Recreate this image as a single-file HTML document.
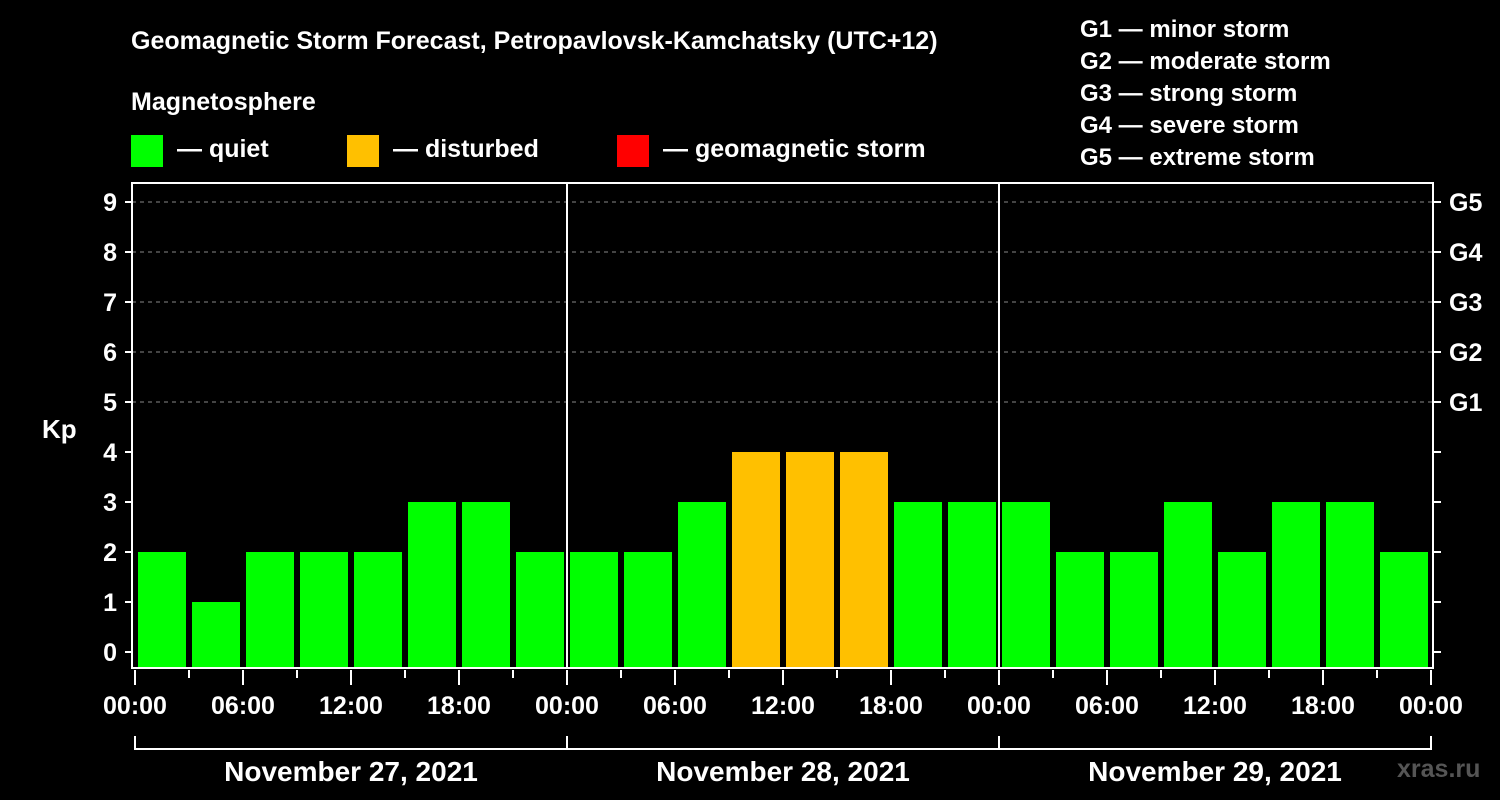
<!DOCTYPE html>
<html><head><meta charset="utf-8"><style>
body{margin:0;background:#000;}
svg{display:block;font-family:"Liberation Sans",Arial,sans-serif;font-weight:bold;}
</style></head><body>
<svg id="c" width="1500" height="800" viewBox="0 0 1500 800">
<rect width="1500" height="800" fill="#000"/>
<text x="131" y="49" fill="#fff" font-size="25">Geomagnetic Storm Forecast, Petropavlovsk-Kamchatsky (UTC+12)</text>
<text x="131" y="110" fill="#fff" font-size="25">Magnetosphere</text>
<g><rect x="131" y="135" width="32" height="32" fill="#00ff00"/><text x="177" y="157" fill="#fff" font-size="25">— quiet</text></g>
<g><rect x="347" y="135" width="32" height="32" fill="#ffc000"/><text x="393" y="157" fill="#fff" font-size="25">— disturbed</text></g>
<g><rect x="617" y="135" width="32" height="32" fill="#ff0000"/><text x="663" y="157" fill="#fff" font-size="25">— geomagnetic storm</text></g>
<g fill="#fff" font-size="24">
<text x="1080" y="37">G1 — minor storm</text><text x="1080" y="69">G2 — moderate storm</text><text x="1080" y="101">G3 — strong storm</text><text x="1080" y="133">G4 — severe storm</text><text x="1080" y="165">G5 — extreme storm</text></g>
<text x="42" y="438" fill="#fff" font-size="26">Kp</text>
<text x="1397" y="777" fill="#555" font-size="25">xras.ru</text>
<g id="grid"></g><g id="bars"></g><g id="axes"></g>
</svg>
<script>
const categories=["Nov 27 00","03","06","09","12","15","18","21","Nov 28 00","03","06","09","12","15","18","21","Nov 29 00","03","06","09","12","15","18","21"];
const kpValues=[2,1,2,2,2,3,3,2, 2,2,3,4,4,4,3,3, 3,2,2,3,2,3,3,2];
const yTicks=[0,1,2,3,4,5,6,7,8,9];
const gLabels=["G1","G2","G3","G4","G5"];
const xTickLabels=["00:00","06:00","12:00","18:00","00:00","06:00","12:00","18:00","00:00","06:00","12:00","18:00","00:00"];
const dayLabels=["November 27, 2021","November 28, 2021","November 29, 2021"];
const NS="http://www.w3.org/2000/svg";
const X0=135,SLOT=54,Y0=652,UNIT=50,BOT=668,TOP=183,RIGHT=1433;
const xs=i=>X0+SLOT*i, ys=v=>Y0-UNIT*v;
function mk(p,t,a){const e=document.createElementNS(NS,t);for(const k in a)e.setAttribute(k,a[k]);p.appendChild(e);return e;}
const grid=document.getElementById('grid'),bars=document.getElementById('bars'),axes=document.getElementById('axes');
for(let v=5;v<=9;v++){const l=mk(grid,'line',{x1:132,x2:RIGHT,y1:ys(v),y2:ys(v),stroke:'#888','stroke-dasharray':'4 4','stroke-width':1});

}
kpValues.forEach((v,i)=>{const col=v>=5?'#ff0000':v>=4?'#ffc000':'#00ff00';
const r=mk(bars,'rect',{x:xs(i)+3,y:ys(v),width:48,height:BOT-ys(v),fill:col});

});
// frame
const fr=mk(axes,'path',{d:`M132 ${TOP} H${RIGHT} V${BOT} H132 Z`,fill:'none',stroke:'#fff','stroke-width':2});


for(let d=1;d<3;d++){const l=mk(axes,'line',{x1:xs(8*d),x2:xs(8*d),y1:TOP,y2:BOT,stroke:'#fff','stroke-width':2});

}
yTicks.forEach(v=>{mk(axes,'line',{x1:125,x2:132,y1:ys(v),y2:ys(v),stroke:'#fff','stroke-width':2});
mk(axes,'line',{x1:RIGHT,x2:RIGHT+8,y1:ys(v),y2:ys(v),stroke:'#fff','stroke-width':2});
const t=mk(axes,'text',{x:117,y:ys(v)+9,fill:'#fff','font-size':25,'text-anchor':'end'});t.textContent=v;

});
gLabels.forEach((g,i)=>{const t=mk(axes,'text',{x:1449,y:ys(5+i)+9,fill:'#fff','font-size':25});t.textContent=g;

});
for(let i=0;i<=24;i++){const maj=i%2===0;mk(axes,'line',{x1:xs(i),x2:xs(i),y1:BOT+2,y2:maj?BOT+17:BOT+10,stroke:'#fff','stroke-width':2});}
xTickLabels.forEach((s,i)=>{const t=mk(axes,'text',{x:xs(2*i),y:714,fill:'#fff','font-size':25,'text-anchor':'middle'});t.textContent=s;

});
mk(axes,'path',{d:`M${xs(0)} 736 V749 H${xs(24)} V736 M${xs(8)} 736 V749 M${xs(16)} 736 V749`,fill:'none',stroke:'#fff','stroke-width':2});
dayLabels.forEach((s,i)=>{const t=mk(axes,'text',{x:xs(8*i+4),y:781,fill:'#fff','font-size':28,'text-anchor':'middle'});t.textContent=s;

});
</script>
</body></html>
